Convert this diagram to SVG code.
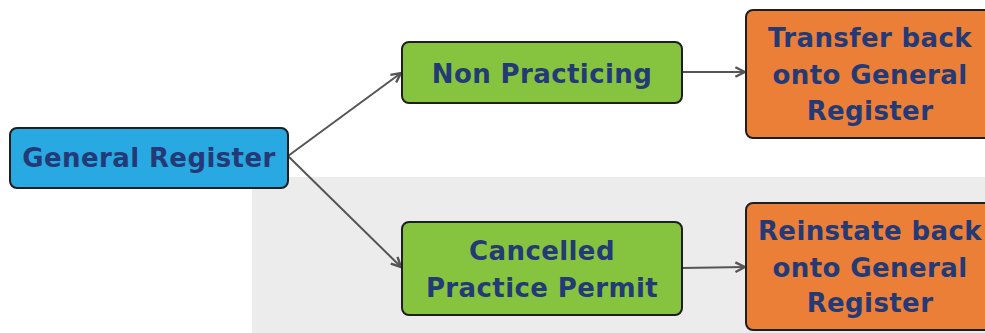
<svg xmlns="http://www.w3.org/2000/svg" width="985" height="333" viewBox="0 0 985 333">
<style>
.box{stroke:#1e1e1e;stroke-width:2}
.blue{fill:#29a9e1}
.green{fill:#86c440}
.orange{fill:#ec7f37}
.t{font-family:"DejaVu Sans",sans-serif;font-weight:bold;font-size:26px;fill:#233a76;text-anchor:middle;letter-spacing:0.4px}
.c{stroke:#555;stroke-width:2;fill:none;marker-end:url(#ah)}
</style>
<defs>
<marker id="ah" viewBox="0 0 10 10" refX="9" refY="5" markerWidth="6" markerHeight="6" orient="auto" markerUnits="strokeWidth">
<path d="M1,1 L9,5 L1,9" fill="none" stroke="#555" stroke-width="2"/>
</marker>
</defs>
<rect x="0" y="0" width="985" height="333" fill="#ffffff"/>
<rect x="252" y="177" width="733" height="156" fill="#ebeceb"/>
<g id="connectors">
<path class="c" d="M288,156 L401,73"/>
<path class="c" d="M288,156 L401,267"/>
<path class="c" d="M682,72 L745,72"/>
<path class="c" d="M682,268 L745,267"/>
</g>
<g id="general">
<rect class="box blue" x="10" y="128" width="278" height="60" rx="7"/>
<text class="t" x="149" y="167">General Register</text>
</g>
<g id="nonpracticing">
<rect class="box green" x="402" y="42" width="280" height="61" rx="7"/>
<text class="t" x="542" y="83">Non Practicing</text>
</g>
<g id="cancelled">
<rect class="box green" x="402" y="222" width="280" height="93" rx="7"/>
<text class="t" x="542" y="260">Cancelled</text>
<text class="t" x="542" y="297">Practice Permit</text>
</g>
<g id="transfer">
<rect class="box orange" x="746" y="10" width="250" height="128" rx="7"/>
<text class="t" x="870" y="47">Transfer back</text>
<text class="t" x="870" y="84">onto General</text>
<text class="t" x="870" y="120">Register</text>
</g>
<g id="reinstate">
<rect class="box orange" x="746" y="203" width="250" height="127" rx="7"/>
<text class="t" x="870" y="240">Reinstate back</text>
<text class="t" x="870" y="277">onto General</text>
<text class="t" x="870" y="312">Register</text>
</g>
</svg>
